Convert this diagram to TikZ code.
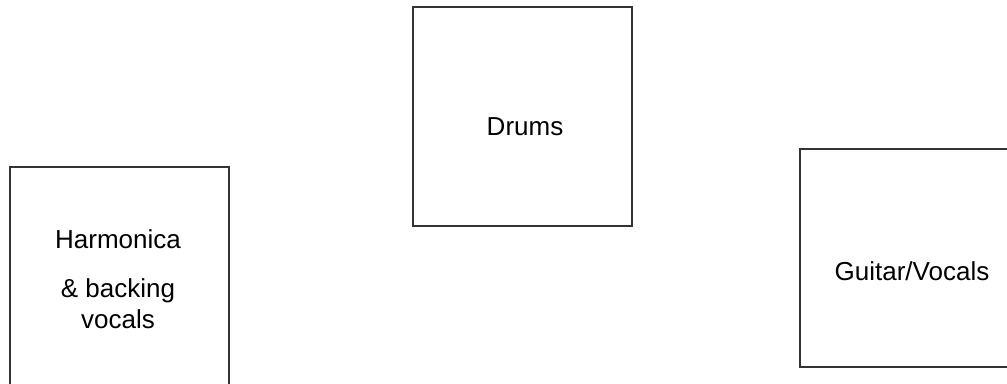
\documentclass[tikz,border=0pt]{standalone}
\usepackage{fontspec}
\setmainfont{Liberation Sans}
\begin{document}
\begin{tikzpicture}[x=0.75pt,y=-0.75pt,
  box/.style={draw=black!80, line width=0.8pt, inner sep=0pt, outer sep=0pt,
    anchor=north west, minimum width=164.25pt},
  lbl/.style={anchor=base, inner sep=0pt, font=\fontsize{19.5}{24}\selectfont, text=black}]
\useasboundingbox (0,0) rectangle (1007,383);
\clip (0,0) rectangle (1007,383);
\node[box, minimum height=168.75pt] (harm) at (10,167) {};
\node[box, minimum height=164.25pt] (drums) at (413,7) {};
\node[box, minimum height=163.5pt] (guitar) at (800,149) {};
\node[lbl] (harmA) at (118,248) {Harmonica};
\node[lbl] (harmB) at (118,297) {\& backing};
\node[lbl] (harmC) at (118,328) {vocals};
\node[lbl] (drumsT) at (525,135) {Drums};
\node[lbl] (guitarT) at (912,280) {Guitar/Vocals};
\end{tikzpicture}
\end{document}
